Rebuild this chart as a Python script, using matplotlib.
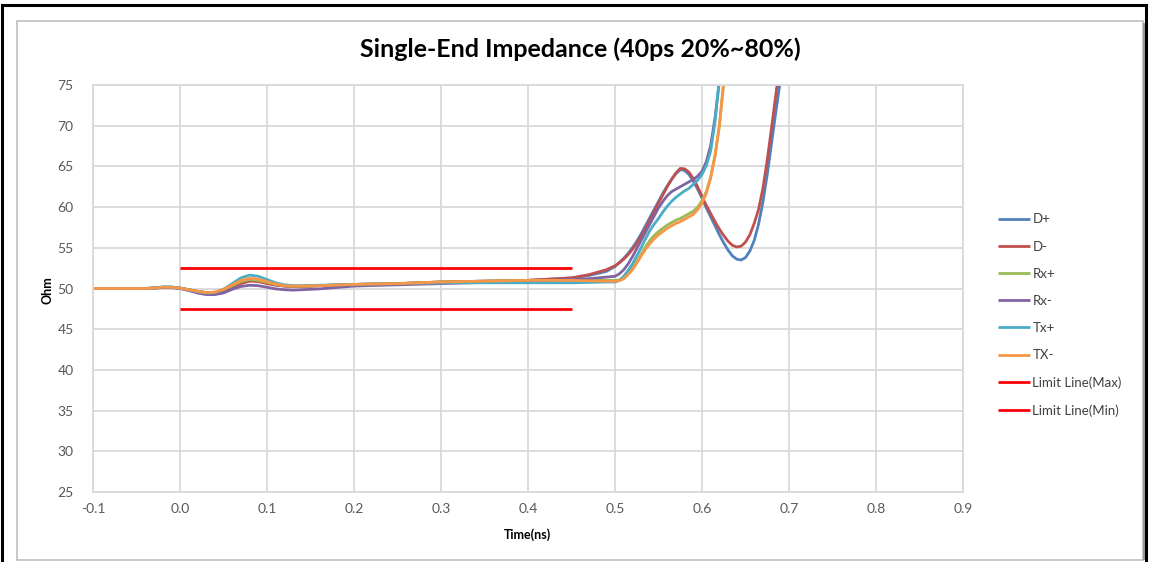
import matplotlib.pyplot as plt
from matplotlib.patches import Rectangle

plt.rcParams['font.family'] = ['Lato', 'DejaVu Sans']

# time bases (ns)
t_early = [-0.1, -0.04, -0.03, -0.02, -0.01, 0.0, 0.01, 0.02, 0.03, 0.04, 0.05, 0.06, 0.07,
           0.08, 0.09, 0.1, 0.11, 0.12, 0.13, 0.14, 0.16]
t_mid = [0.2, 0.25, 0.3, 0.35, 0.4, 0.45, 0.47, 0.49]
t_late = [round(0.5 + 0.005 * i, 3) for i in range(40)]  # 0.500 .. 0.695

# impedance (ohm)
dp_early = [50.0, 50.0, 50.05, 50.15, 50.15, 50.05, 49.85, 49.65, 49.5, 49.5, 49.75, 50.2, 50.7,
            51.0, 50.95, 50.7, 50.45, 50.3, 50.25, 50.25, 50.35]
dp_mid = [50.5, 50.6, 50.8, 50.9, 51.0, 51.3, 51.6, 52.1]
dp_late = [52.7, 53.2, 53.7, 54.3, 55.0, 55.8, 56.7, 57.7, 58.7, 59.7,
           60.7, 61.7, 62.6, 63.4, 64.1, 64.6, 64.5, 64.0, 63.2, 62.2,
           61.1, 59.9, 58.8, 57.7, 56.6, 55.6, 54.7, 54.0, 53.6, 53.5,
           53.8, 54.6, 55.9, 57.9, 60.6, 64.0, 67.9, 71.8, 75.5, 79.0]

dm_early = [50.0, 50.0, 50.05, 50.15, 50.15, 50.05, 49.85, 49.65, 49.5, 49.5, 49.7, 50.15, 50.6,
            50.9, 50.85, 50.6, 50.4, 50.3, 50.25, 50.25, 50.35]
dm_mid = [50.5, 50.6, 50.8, 50.9, 51.0, 51.3, 51.7, 52.3]
dm_late = [52.8, 53.15, 53.6, 54.15, 54.8, 55.55, 56.4, 57.35, 58.4, 59.45,
           60.5, 61.5, 62.5, 63.4, 64.2, 64.75, 64.7, 64.3, 63.5, 62.5,
           61.3, 60.2, 59.2, 58.2, 57.3, 56.5, 55.8, 55.3, 55.1, 55.2,
           55.7, 56.6, 58.0, 59.7, 62.3, 65.8, 69.8, 73.9, 78.0]

rxp_early = [50.0, 50.0, 50.05, 50.15, 50.15, 50.05, 49.85, 49.65, 49.5, 49.55, 49.85, 50.35, 50.85,
             51.1, 51.0, 50.75, 50.5, 50.35, 50.3, 50.3, 50.35]
rxp_mid = [50.5, 50.6, 50.8, 50.9, 51.0, 51.0, 51.0, 51.0]
rxp_late = [51.0, 51.05, 51.3, 51.8, 52.5, 53.3, 54.2, 55.1, 55.9, 56.5,
            57.0, 57.4, 57.8, 58.1, 58.4, 58.6, 58.9, 59.2, 59.5, 60.0,
            60.8, 61.9, 63.7, 66.4, 70.0, 75.3, 81.0]

rxm_early = [50.0, 50.0, 50.05, 50.1, 50.1, 50.0, 49.75, 49.45, 49.25, 49.25, 49.45, 49.9, 50.25,
             50.4, 50.35, 50.15, 49.95, 49.85, 49.8, 49.85, 49.95]
rxm_mid = [50.3, 50.45, 50.6, 50.75, 50.9, 51.1, 51.2, 51.4]
rxm_late = [51.5, 51.8, 52.3, 53.0, 53.9, 54.9, 55.9, 56.9, 57.9, 58.9,
            59.9, 60.7, 61.4, 61.9, 62.2, 62.5, 62.8, 63.1, 63.4, 63.8,
            64.4, 65.6, 67.6, 71.0, 75.5, 80.0]

txp_early = [50.0, 50.0, 50.05, 50.2, 50.2, 50.05, 49.85, 49.6, 49.45, 49.5, 49.9, 50.6, 51.3,
             51.65, 51.5, 51.1, 50.7, 50.45, 50.35, 50.35, 50.4]
txp_mid = [50.5, 50.6, 50.7, 50.7, 50.7, 50.7, 50.75, 50.8]
txp_late = [50.8, 51.0, 51.5, 52.2, 53.0, 54.0, 55.0, 56.1, 57.1, 57.9,
            58.6, 59.4, 60.1, 60.7, 61.2, 61.6, 62.0, 62.3, 62.8, 63.3,
            64.0, 65.1, 66.9, 70.5, 75.8, 81.0]

txm_early = [50.0, 50.0, 50.05, 50.15, 50.15, 50.05, 49.85, 49.65, 49.5, 49.55, 49.9, 50.45, 51.0,
             51.25, 51.15, 50.85, 50.55, 50.35, 50.3, 50.3, 50.35]
txm_mid = [50.5, 50.6, 50.8, 50.9, 51.0, 51.0, 50.95, 50.9]
txm_late = [50.9, 50.95, 51.2, 51.7, 52.3, 53.1, 54.0, 54.8, 55.5, 56.1,
            56.6, 57.0, 57.4, 57.7, 58.0, 58.2, 58.5, 58.8, 59.1, 59.7,
            60.5, 61.7, 63.6, 66.3, 70.0, 75.5, 81.0]

t_limit = [0.0, 0.45]
z_max = [52.5, 52.5]
z_min = [47.5, 47.5]


def trace(early, mid, late):
    t = t_early + t_mid + t_late[:len(late)]
    return t, early + mid + late


series = [
    ("D+", *trace(dp_early, dp_mid, dp_late), "#4F81BD"),
    ("D-", *trace(dm_early, dm_mid, dm_late), "#C0504D"),
    ("Rx+", *trace(rxp_early, rxp_mid, rxp_late), "#9BBB59"),
    ("Rx-", *trace(rxm_early, rxm_mid, rxm_late), "#8064A2"),
    ("Tx+", *trace(txp_early, txp_mid, txp_late), "#4BACC6"),
    ("TX-", *trace(txm_early, txm_mid, txm_late), "#F79646"),
    ("Limit Line(Max)", t_limit, z_max, "#FF0000"),
    ("Limit Line(Min)", t_limit, z_min, "#FF0000"),
]

W, H = 1151, 562
fig = plt.figure(figsize=(W / 100, H / 100), dpi=100)

# outer black frame and grey chart border
fig.patches.append(Rectangle((2 / W, -0.02), 1144 / W, (H + 10 - 4) / H, transform=fig.transFigure,
                             fill=False, ec="black", lw=2.2))
fig.patches.append(Rectangle((17 / W, 2 / H), 1126 / W, 539 / H, transform=fig.transFigure,
                             fill=False, ec="#BFBFBF", lw=1.2))
fig.patches.append(Rectangle((1143 / W, 2 / H), 2 / W, 537 / H, transform=fig.transFigure,
                             fc="#9A9A9A", ec="none"))

ax = fig.add_axes([93 / W, (H - 492) / H, 870 / W, 407 / H])
for name, t, z, c in series:
    ax.plot(t, z, color=c, lw=2.0, label=name, solid_capstyle="butt", solid_joinstyle="round")

ax.set_xlim(-0.1, 0.9)
ax.set_ylim(25, 75)
ax.set_xticks([-0.1 + 0.1 * i for i in range(11)])
ax.set_xticklabels(["-0.1", "0.0", "0.1", "0.2", "0.3", "0.4", "0.5", "0.6", "0.7", "0.8", "0.9"])
ax.set_yticks(range(25, 80, 5))
ax.grid(True, color="#D9D9D9", lw=1.3)
ax.set_axisbelow(True)
for s in ax.spines.values():
    s.set_color("#D9D9D9")
    s.set_linewidth(1.3)
ax.tick_params(axis="both", length=0, labelsize=10, labelcolor="#595959")
ax.tick_params(axis="y", pad=14)
ax.tick_params(axis="x", pad=8)

ax.set_title("Single-End Impedance (40ps 20%~80%)", fontsize=18, fontweight="bold", pad=20, x=0.56)
fig.text(47 / W, 1 - 290 / H, "Ohm", rotation=90, fontsize=9, fontweight="bold", ha="center", va="center")
fig.text(527 / W, 1 - 535 / H, "Time(ns)", fontsize=9, fontweight="bold", ha="center", va="center")

fig.legend(loc="center left", bbox_to_anchor=(998 / W, 1 - 315 / H), frameon=False, fontsize=9.5,
           handlelength=2.4, handletextpad=0.2, labelspacing=1.15, borderpad=0, borderaxespad=0,
           labelcolor="#404040")

fig.savefig("out.png", dpi=100)
